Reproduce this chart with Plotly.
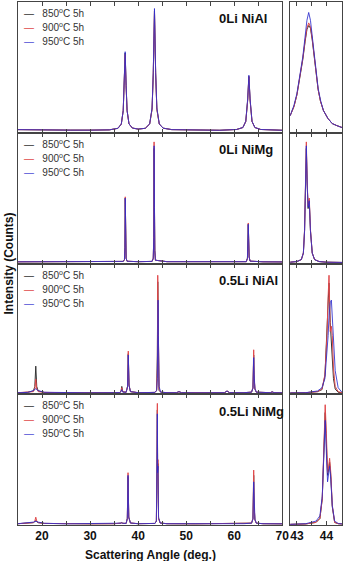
import plotly.graph_objects as go
from plotly.subplots import make_subplots

# ---- data (intensity normalised to each panel's height) ----
SERIES_LABELS = ["850<sup>o</sup>C 5h", "900<sup>o</sup>C 5h", "950<sup>o</sup>C 5h"]
PANEL_NAMES = ["0Li NiAl", "0Li NiMg", "0.5Li NiAl", "0.5Li NiMg"]

# 0Li NiAl - full scan
ANGLE_0LI_NIAL = [15, 18, 22, 26, 30, 34, 35.8, 36.5, 36.9, 37.1, 37.3, 37.5, 37.7, 38.1, 38.8,
                  40, 41.5, 42.4, 42.9, 43.15, 43.4, 43.65, 43.9, 44.4, 45.2, 47, 52, 57, 60.5,
                  61.8, 62.4, 62.8, 63.05, 63.3, 63.7, 64.3, 65.5, 70]
I850_0LI_NIAL = [0.024, 0.022, 0.021, 0.02, 0.02, 0.022, 0.034, 0.066, 0.17, 0.36, 0.61, 0.36, 0.17, 0.068, 0.036,
                 0.028, 0.034, 0.067, 0.18, 0.45, 0.93, 0.45, 0.18, 0.067, 0.035, 0.024, 0.019, 0.019, 0.025,
                 0.04, 0.086, 0.25, 0.43, 0.25, 0.086, 0.04, 0.025, 0.019]
I900_0LI_NIAL = [0.024, 0.022, 0.021, 0.02, 0.02, 0.022, 0.034, 0.066, 0.17, 0.35, 0.6, 0.35, 0.17, 0.068, 0.036,
                 0.028, 0.034, 0.067, 0.18, 0.45, 0.93, 0.45, 0.18, 0.067, 0.035, 0.024, 0.019, 0.019, 0.025,
                 0.04, 0.086, 0.25, 0.43, 0.25, 0.086, 0.04, 0.025, 0.019]
I950_0LI_NIAL = [0.024, 0.022, 0.021, 0.02, 0.02, 0.022, 0.034, 0.067, 0.17, 0.36, 0.62, 0.36, 0.17, 0.068, 0.036,
                 0.028, 0.034, 0.068, 0.19, 0.46, 0.95, 0.46, 0.19, 0.068, 0.035, 0.024, 0.019, 0.019, 0.025,
                 0.04, 0.088, 0.26, 0.44, 0.26, 0.088, 0.04, 0.025, 0.019]

# 0Li NiMg - full scan
ANGLE_0LI_NIMG = [15, 25, 35, 36.9, 37.15, 37.25, 37.32, 37.4, 37.5, 37.7, 40, 42.9, 43.15, 43.25,
                  43.32, 43.4, 43.47, 43.6, 46, 55, 62.5, 62.75, 62.85, 62.92, 63.0, 63.1, 63.3, 66, 70]
I850_0LI_NIMG = [0.013, 0.012, 0.013, 0.016, 0.03, 0.12, 0.5, 0.16, 0.04, 0.017, 0.014, 0.016, 0.04, 0.2,
                 0.88, 0.42, 0.1, 0.025, 0.014, 0.012, 0.014, 0.04, 0.12, 0.3, 0.19, 0.05, 0.018, 0.013, 0.012]
I900_0LI_NIMG = [0.013, 0.012, 0.013, 0.016, 0.03, 0.12, 0.51, 0.16, 0.04, 0.017, 0.014, 0.016, 0.04, 0.21,
                 0.93, 0.44, 0.1, 0.025, 0.014, 0.012, 0.014, 0.04, 0.12, 0.31, 0.19, 0.05, 0.018, 0.013, 0.012]
I950_0LI_NIMG = [0.013, 0.012, 0.013, 0.016, 0.03, 0.12, 0.5, 0.16, 0.04, 0.017, 0.014, 0.016, 0.04, 0.2,
                 0.9, 0.43, 0.1, 0.025, 0.014, 0.012, 0.014, 0.04, 0.12, 0.3, 0.19, 0.05, 0.018, 0.013, 0.012]

# 0.5Li NiAl - full scan
ANGLE_05LI_NIAL = [15, 17, 18.2, 18.5, 18.7, 18.9, 19.2, 20.5, 25, 30, 35, 36.2, 36.45, 36.6, 36.8,
                   37.5, 37.8, 37.95, 38.1, 38.4, 40, 43.5, 43.85, 44.0, 44.08, 44.15, 44.22, 44.35,
                   44.7, 46, 48.0, 48.5, 49.0, 52, 58.0, 58.5, 59.0, 62, 63.6, 63.9, 64.05, 64.15,
                   64.3, 64.6, 66, 67.5, 67.9, 68.3, 70]
I850_05LI_NIAL = [0.012, 0.015, 0.025, 0.06, 0.215, 0.06, 0.025, 0.014, 0.011, 0.011, 0.012, 0.013, 0.025, 0.06, 0.02,
                  0.015, 0.06, 0.31, 0.07, 0.02, 0.012, 0.014, 0.03, 0.3, 0.86, 0.4, 0.1, 0.03,
                  0.016, 0.012, 0.012, 0.02, 0.012, 0.011, 0.012, 0.025, 0.012, 0.012, 0.016, 0.05, 0.3, 0.12,
                  0.04, 0.016, 0.012, 0.012, 0.018, 0.012, 0.011]
I900_05LI_NIAL = [0.012, 0.014, 0.02, 0.04, 0.115, 0.04, 0.02, 0.014, 0.011, 0.011, 0.012, 0.013, 0.022, 0.05, 0.018,
                  0.015, 0.06, 0.33, 0.07, 0.02, 0.012, 0.014, 0.03, 0.2, 0.91, 0.5, 0.2, 0.04,
                  0.016, 0.012, 0.012, 0.02, 0.012, 0.011, 0.012, 0.025, 0.012, 0.012, 0.016, 0.05, 0.34, 0.13,
                  0.04, 0.016, 0.012, 0.012, 0.018, 0.012, 0.011]
I950_05LI_NIAL = [0.012, 0.014, 0.028, 0.036, 0.042, 0.036, 0.028, 0.015, 0.011, 0.011, 0.012, 0.013, 0.02, 0.035, 0.016,
                  0.015, 0.055, 0.3, 0.07, 0.02, 0.012, 0.014, 0.03, 0.12, 0.5, 0.72, 0.45, 0.06,
                  0.016, 0.012, 0.012, 0.02, 0.012, 0.011, 0.012, 0.025, 0.012, 0.012, 0.016, 0.045, 0.28, 0.15,
                  0.045, 0.016, 0.012, 0.012, 0.018, 0.012, 0.011]

# 0.5Li NiMg - full scan
ANGLE_05LI_NIMG = [15, 17, 18.2, 18.5, 18.7, 18.9, 19.2, 20.5, 25, 30, 35, 36.2, 36.45, 36.6, 36.8,
                   37.5, 37.75, 37.9, 38.05, 38.4, 40, 43.5, 43.8, 43.92, 44.0, 44.06, 44.12, 44.25,
                   44.6, 46, 52, 58.5, 62, 63.6, 63.9, 64.05, 64.15, 64.3, 64.6, 66, 70]
I850_05LI_NIMG = [0.01, 0.012, 0.018, 0.025, 0.035, 0.025, 0.018, 0.012, 0.009, 0.009, 0.01, 0.011, 0.014, 0.018, 0.013,
                  0.012, 0.05, 0.37, 0.06, 0.015, 0.01, 0.012, 0.03, 0.45, 0.88, 0.42, 0.47, 0.05,
                  0.015, 0.01, 0.009, 0.01, 0.01, 0.014, 0.05, 0.38, 0.14, 0.04, 0.014, 0.01, 0.009]
I900_05LI_NIMG = [0.01, 0.012, 0.018, 0.03, 0.06, 0.03, 0.018, 0.012, 0.009, 0.009, 0.01, 0.011, 0.014, 0.018, 0.013,
                  0.012, 0.05, 0.4, 0.06, 0.015, 0.01, 0.012, 0.03, 0.5, 0.93, 0.42, 0.5, 0.05,
                  0.015, 0.01, 0.009, 0.01, 0.01, 0.014, 0.05, 0.42, 0.15, 0.04, 0.014, 0.01, 0.009]
I950_05LI_NIMG = [0.01, 0.014, 0.022, 0.027, 0.03, 0.027, 0.022, 0.013, 0.009, 0.009, 0.01, 0.011, 0.014, 0.018, 0.013,
                  0.012, 0.05, 0.38, 0.06, 0.015, 0.01, 0.012, 0.03, 0.5, 0.85, 0.4, 0.45, 0.06,
                  0.015, 0.01, 0.009, 0.01, 0.01, 0.014, 0.045, 0.33, 0.15, 0.045, 0.014, 0.01, 0.009]

# zoomed (200) reflection, right-hand column
ZOOM_ANGLE_0LI_NIAL = [42.77, 42.9, 43.0, 43.1, 43.2, 43.28, 43.34, 43.4, 43.46, 43.52, 43.58, 43.65,
                       43.72, 43.8, 43.9, 44.05, 44.2, 44.35, 44.53]
Z850_0LI_NIAL = [0.13, 0.2, 0.29, 0.41, 0.56, 0.7, 0.79, 0.82, 0.8, 0.71, 0.6, 0.44,
                 0.33, 0.24, 0.17, 0.11, 0.07, 0.055, 0.04]
Z900_0LI_NIAL = [0.13, 0.2, 0.29, 0.42, 0.57, 0.71, 0.8, 0.84, 0.81, 0.72, 0.6, 0.44,
                 0.33, 0.24, 0.17, 0.11, 0.07, 0.055, 0.04]
Z950_0LI_NIAL = [0.13, 0.21, 0.3, 0.43, 0.58, 0.74, 0.86, 0.92, 0.86, 0.74, 0.61, 0.45,
                 0.34, 0.25, 0.17, 0.11, 0.07, 0.055, 0.04]

ZOOM_ANGLE_0LI_NIMG = [42.77, 43.0, 43.15, 43.22, 43.26, 43.29, 43.32, 43.35, 43.38, 43.42, 43.46,
                       43.52, 43.6, 43.75, 44.0, 44.53]
Z850_0LI_NIMG = [0.01, 0.015, 0.03, 0.08, 0.25, 0.6, 0.88, 0.6, 0.42, 0.47, 0.25, 0.08, 0.03, 0.015, 0.01, 0.008]
Z900_0LI_NIMG = [0.01, 0.015, 0.03, 0.08, 0.26, 0.63, 0.93, 0.62, 0.44, 0.5, 0.26, 0.08, 0.03, 0.015, 0.01, 0.008]
Z950_0LI_NIMG = [0.01, 0.015, 0.03, 0.08, 0.25, 0.61, 0.9, 0.6, 0.43, 0.48, 0.25, 0.08, 0.03, 0.015, 0.01, 0.008]

ZOOM_ANGLE_05LI_NIAL = [42.77, 43.3, 43.7, 43.85, 43.95, 44.02, 44.06, 44.09, 44.13, 44.17, 44.2,
                        44.24, 44.3, 44.4, 44.53]
Z850_05LI_NIAL = [0.01, 0.012, 0.02, 0.035, 0.14, 0.5, 0.8, 0.85, 0.55, 0.4, 0.3, 0.12, 0.04, 0.015, 0.01]
Z900_05LI_NIAL = [0.01, 0.012, 0.02, 0.04, 0.15, 0.45, 0.75, 0.91, 0.48, 0.52, 0.45, 0.2, 0.06, 0.02, 0.012]
Z950_05LI_NIAL = [0.01, 0.012, 0.025, 0.05, 0.12, 0.3, 0.45, 0.6, 0.7, 0.72, 0.6, 0.4, 0.18, 0.05, 0.015]

ZOOM_ANGLE_05LI_NIMG = [42.77, 43.3, 43.65, 43.78, 43.86, 43.92, 43.96, 44.0, 44.04, 44.08, 44.11,
                        44.15, 44.2, 44.28, 44.4, 44.53]
Z850_05LI_NIMG = [0.005, 0.008, 0.02, 0.05, 0.2, 0.58, 0.86, 0.62, 0.38, 0.43, 0.48, 0.37, 0.14, 0.02, 0.01, 0.008]
Z900_05LI_NIMG = [0.005, 0.008, 0.02, 0.05, 0.2, 0.6, 0.92, 0.7, 0.4, 0.45, 0.51, 0.4, 0.15, 0.02, 0.01, 0.008]
Z950_05LI_NIMG = [0.005, 0.01, 0.03, 0.07, 0.22, 0.62, 0.8, 0.55, 0.33, 0.4, 0.45, 0.35, 0.15, 0.03, 0.012, 0.008]

PANELS = [
    (ANGLE_0LI_NIAL, [I850_0LI_NIAL, I900_0LI_NIAL, I950_0LI_NIAL],
     ZOOM_ANGLE_0LI_NIAL, [Z850_0LI_NIAL, Z900_0LI_NIAL, Z950_0LI_NIAL]),
    (ANGLE_0LI_NIMG, [I850_0LI_NIMG, I900_0LI_NIMG, I950_0LI_NIMG],
     ZOOM_ANGLE_0LI_NIMG, [Z850_0LI_NIMG, Z900_0LI_NIMG, Z950_0LI_NIMG]),
    (ANGLE_05LI_NIAL, [I850_05LI_NIAL, I900_05LI_NIAL, I950_05LI_NIAL],
     ZOOM_ANGLE_05LI_NIAL, [Z850_05LI_NIAL, Z900_05LI_NIAL, Z950_05LI_NIAL]),
    (ANGLE_05LI_NIMG, [I850_05LI_NIMG, I900_05LI_NIMG, I950_05LI_NIMG],
     ZOOM_ANGLE_05LI_NIMG, [Z850_05LI_NIMG, Z900_05LI_NIMG, Z950_05LI_NIMG]),
]

COLORS = ["#333333", "#e0484a", "rgba(45, 45, 205, 0.85)"]
FONT = "Liberation Sans, Arial, sans-serif"
AXIS_COLOR = "#444444"

fig = make_subplots(
    rows=4,
    cols=2,
    column_widths=[0.8157, 0.1601],
    horizontal_spacing=0.0242,
    vertical_spacing=0,
)

for row, (angle, series, zoom_angle, zoom_series) in enumerate(PANELS, start=1):
    for ys, zs, color, label in zip(series, zoom_series, COLORS, SERIES_LABELS):
        fig.add_trace(go.Scatter(x=angle, y=ys, mode="lines", name=label, showlegend=False,
                                 line=dict(color=color, width=1)), row=row, col=1)
        fig.add_trace(go.Scatter(x=zoom_angle, y=zs, mode="lines", name=label, showlegend=False,
                                 line=dict(color=color, width=1)), row=row, col=2)

tick_font = dict(family=FONT, size=12, color="#111111", weight="bold")
frame = dict(showline=True, linecolor=AXIS_COLOR, linewidth=1, showgrid=False, zeroline=False)

fig.update_xaxes(range=[15, 70], tick0=0, dtick=10, ticks="inside", ticklen=4, tickcolor=AXIS_COLOR,
                 minor=dict(dtick=5, ticks="inside", ticklen=4, tickcolor=AXIS_COLOR),
                 mirror="ticks", tickfont=tick_font, **frame, col=1)
fig.update_xaxes(range=[42.77, 44.53], tick0=0, dtick=1, ticks="inside", ticklen=4, tickcolor=AXIS_COLOR,
                 minor=dict(dtick=0.5, ticks="inside", ticklen=4, tickcolor=AXIS_COLOR),
                 mirror="ticks", tickfont=tick_font, **frame, col=2)
for row in (1, 2, 3):
    fig.update_xaxes(showticklabels=False, row=row)
fig.update_yaxes(range=[0, 1], showticklabels=False, ticks="", mirror=True, **frame)

annotations = []
for i, name in enumerate(PANEL_NAMES):
    ax = 2 * i + 1
    xref = "x domain" if ax == 1 else f"x{ax} domain"
    yref = "y domain" if ax == 1 else f"y{ax} domain"
    annotations.append(dict(x=0.752, y=0.87, xref=xref, yref=yref, xanchor="left", yanchor="middle",
                            text=f"<b>{name}</b>", showarrow=False,
                            font=dict(family=FONT, size=13, color="#111111")))
    for j, (label, color) in enumerate(zip(SERIES_LABELS, COLORS)):
        annotations.append(dict(
            x=0.016, y=0.915 - j * 0.107, xref=xref, yref=yref, xanchor="left", yanchor="middle",
            text=f"<span style='color:{color}'>\u2014</span>\u00a0\u00a0\u00a0{label}",
            showarrow=False, font=dict(family=FONT, size=10, color="#333333"),
        ))

annotations.append(dict(x=0.408, y=0, xref="paper", yref="paper", yshift=-21, xanchor="center",
                        yanchor="top", text="<b>Scattering Angle (deg.)</b>", showarrow=False,
                        font=dict(family=FONT, size=12, color="#111111")))
annotations.append(dict(x=0, y=0.5, xref="paper", yref="paper", xshift=-10, xanchor="center",
                        yanchor="middle", textangle=-90, text="<b>Intensity (Counts)</b>",
                        showarrow=False, font=dict(family=FONT, size=12, color="#111111")))

fig.update_layout(
    width=350,
    height=561,
    margin=dict(l=18, r=1, t=2, b=36),
    paper_bgcolor="white",
    plot_bgcolor="white",
    hovermode=False,
    annotations=annotations,
)

# the page body has a default 8px margin; drop it so the 350x561 figure fills the window
fig.write_html("out.html", config={"displayModeBar": False},
               post_script="document.body.style.margin = '0';")
